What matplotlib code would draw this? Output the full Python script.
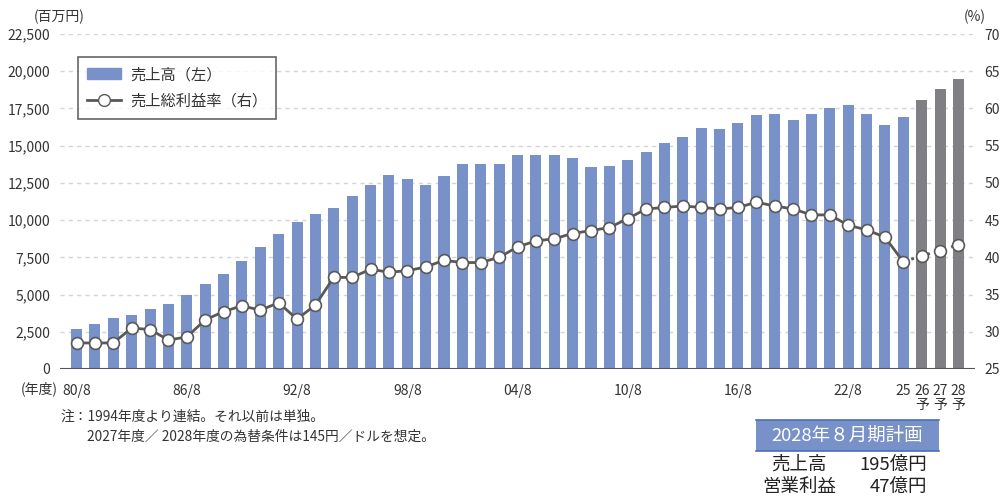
import numpy as np
import matplotlib.pyplot as plt
from matplotlib.patches import Rectangle, Patch
from matplotlib.lines import Line2D

plt.rcParams['font.family'] = ['Noto Sans CJK JP', 'DejaVu Sans']

# Data (fiscal years 1980 - 2028, last three are forecasts)
years = list(range(1980, 2029))
sales = [2700, 3050, 3400, 3650, 4050, 4350, 5000, 5700, 6350, 7250,
         8200, 9050, 9850, 10400, 10800, 11650, 12350, 13050, 12750, 12350,
         12950, 13750, 13750, 13750, 14400, 14350, 14350, 14200, 13600, 13650,
         14050, 14600, 15150, 15600, 16200, 16150, 16550, 17050, 17150, 16750,
         17100, 17550, 17750, 17150, 16400, 16950, 18050, 18800, 19500]
margin = [28.5, 28.5, 28.5, 30.5, 30.3, 28.9, 29.3, 31.6, 32.7, 33.5,
          32.9, 33.9, 31.7, 33.6, 37.3, 37.3, 38.4, 38.0, 38.2, 38.7,
          39.6, 39.3, 39.3, 40.0, 41.4, 42.2, 42.5, 43.2, 43.6, 44.0,
          45.2, 46.5, 46.7, 46.9, 46.7, 46.5, 46.7, 47.4, 46.9, 46.5,
          45.7, 45.7, 44.3, 43.7, 42.7, 39.4, 40.2, 40.9, 41.7]
n_forecast = 3
tick_idx = [0, 6, 12, 18, 24, 30, 36, 42, 45, 46, 47, 48]
tick_labels = ['80/8', '86/8', '92/8', '98/8', '04/8', '10/8', '16/8', '22/8',
               '25', '26\n予', '27\n予', '28\n予']

blue = '#7891c9'
gray_bar = '#7f7f84'
line_col = '#595959'
txt = '#333333'

fig = plt.figure(figsize=(10.05, 4.96), dpi=100)
ax = fig.add_axes([60/1005, 1-369/496, 915/1005, 335/496])
ax2 = ax.twinx()

x = np.arange(len(years))
n = len(years)
colors = [blue]*(n-n_forecast) + [gray_bar]*n_forecast
ax.bar(x, sales, width=0.6, color=colors, zorder=2)

ax.set_ylim(0, 22500)
ax.set_yticks(np.arange(0, 22501, 2500))
ax.set_yticklabels([f'{v:,}' for v in range(0, 22501, 2500)])
ax.set_xlim(-0.9, 48.9)
ax.set_xticks(tick_idx)
ax.set_xticklabels(tick_labels, linespacing=1.0, va='top')
ax.grid(axis='y', color='#d4d4d4', linestyle=(0, (3, 3)), linewidth=1, zorder=0)
ax.set_axisbelow(True)

for a in (ax, ax2):
    for s in ['top', 'right', 'left', 'bottom']:
        a.spines[s].set_visible(False)
    a.tick_params(length=0, labelsize=10, colors=txt)
ax.axhline(0, color='#555555', linewidth=1.5, zorder=3)
ax.tick_params(axis='y', pad=7)
ax.tick_params(axis='x', pad=11)
ax2.tick_params(axis='y', pad=7)

ax2.set_ylim(25, 70)
ax2.set_yticks(np.arange(25, 71, 5))
k = n - n_forecast - 1
ax2.plot(x[:k+1], margin[:k+1], color=line_col, linewidth=2, zorder=3)
ax2.plot(x[k:], margin[k:], color=line_col, linewidth=2, linestyle=(0, (1, 2)), zorder=3)
ax2.plot(x, margin, linestyle='none', marker='o', markersize=8.5,
         markerfacecolor='white', markeredgecolor=line_col, markeredgewidth=1.2, zorder=4)

# legend
handles = [Patch(color=blue),
           Line2D([], [], color=line_col, linewidth=2, marker='o', markersize=8.5,
                  markerfacecolor='white', markeredgecolor=line_col)]
leg = fig.legend(handles, ['売上高（左）', '売上総利益率（右）'], loc='upper left',
                 bbox_to_anchor=(78/1005, 1-57/496), borderaxespad=0,
                 frameon=True, fancybox=False,
                 edgecolor='#404040', fontsize=11, handlelength=2.2,
                 borderpad=0.6, labelspacing=0.6, handletextpad=0.6)
leg.get_frame().set_linewidth(1.2)
for t in leg.get_texts():
    t.set_color(txt)

# axis unit labels
fig.text(59/1005, 1-17/496, '(百万円)', ha='center', va='center', fontsize=10, color=txt)
fig.text(975/1005, 1-17/496, '(%)', ha='center', va='center', fontsize=10, color=txt)
fig.text(58/1005, 1-389/496, '(年度)', ha='right', va='center', fontsize=10, color=txt)

# notes
fig.text(60/1005, 1-417/496, '注：1994年度より連結。それ以前は単独。',
         ha='left', va='center', fontsize=9.9, color=txt)
fig.text(87/1005, 1-437/496, '2027年度／ 2028年度の為替条件は145円／ドルを想定。',
         ha='left', va='center', fontsize=9.9, color=txt)

# plan box
fig.patches.append(Rectangle((756/1005, 1-451/496), 183/1005, 31/496,
                             transform=fig.transFigure, facecolor=blue,
                             edgecolor='none'))
fig.add_artist(Line2D([756/1005, 939/1005], [1-420/496]*2, color='#4a6fb5', lw=1.2))
fig.add_artist(Line2D([756/1005, 939/1005], [1-451/496]*2, color='#4a6fb5', lw=1.2))
fig.text(847/1005, 1-436/496, '2028年８月期計画', ha='center', va='center',
         fontsize=13.3, color='white')
fig.text(799/1005, 1-465/496, '売上高', ha='center', va='center', fontsize=13.3, color='#222222')
fig.text(927/1005, 1-465/496, '195億円', ha='right', va='center', fontsize=13.3, color='#222222')
fig.text(799/1005, 1-487/496, '営業利益', ha='center', va='center', fontsize=13.3, color='#222222')
fig.text(927/1005, 1-487/496, '47億円', ha='right', va='center', fontsize=13.3, color='#222222')

fig.savefig('out.png', dpi=100)
